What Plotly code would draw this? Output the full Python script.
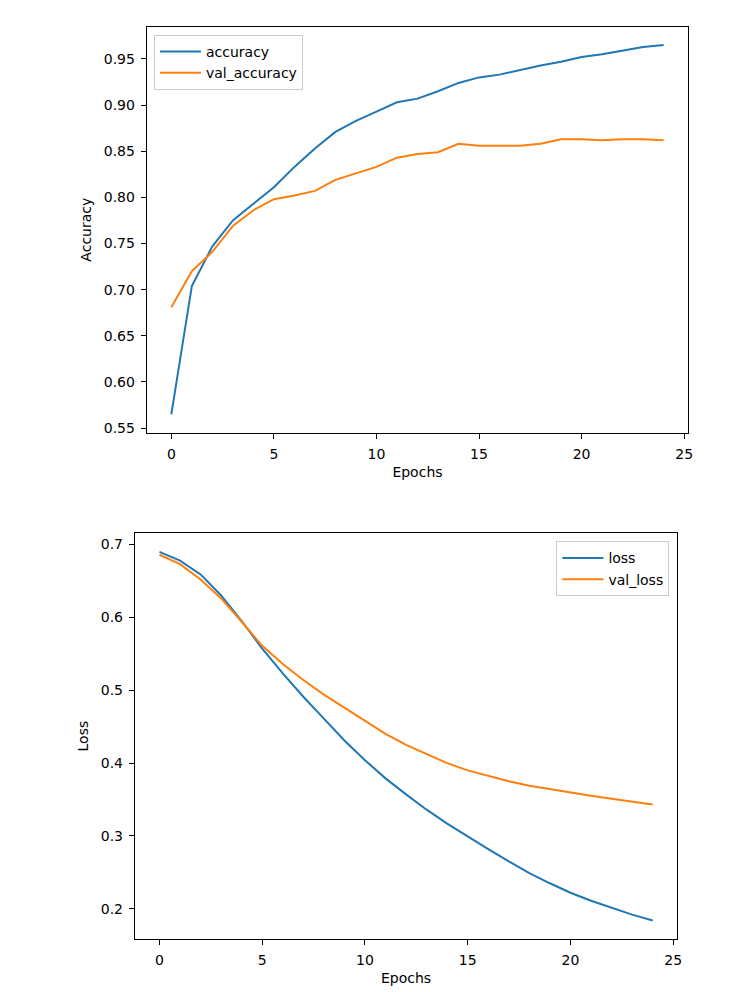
import plotly.graph_objects as go

epochs = list(range(25))

accuracy = [0.565, 0.704, 0.747, 0.775, 0.793, 0.811, 0.833, 0.853, 0.871, 0.883,
            0.893, 0.903, 0.907, 0.915, 0.924, 0.930, 0.933, 0.938, 0.943, 0.947,
            0.952, 0.955, 0.959, 0.963, 0.965]
val_accuracy = [0.681, 0.720, 0.741, 0.769, 0.786, 0.798, 0.802, 0.807, 0.819, 0.826,
                0.833, 0.843, 0.847, 0.849, 0.858, 0.856, 0.856, 0.856, 0.858, 0.863,
                0.863, 0.862, 0.863, 0.863, 0.862]

loss = [0.690, 0.678, 0.659, 0.630, 0.595, 0.557, 0.523, 0.491, 0.461, 0.431,
        0.404, 0.379, 0.357, 0.336, 0.317, 0.299, 0.282, 0.265, 0.249, 0.235,
        0.222, 0.211, 0.201, 0.192, 0.184]
val_loss = [0.686, 0.673, 0.652, 0.626, 0.594, 0.561, 0.536, 0.514, 0.494, 0.476,
            0.458, 0.440, 0.425, 0.412, 0.400, 0.390, 0.382, 0.375, 0.369, 0.364,
            0.359, 0.355, 0.351, 0.347, 0.343]

acc_ticks = [0.55, 0.60, 0.65, 0.70, 0.75, 0.80, 0.85, 0.90, 0.95]
loss_ticks = [0.2, 0.3, 0.4, 0.5, 0.6, 0.7]
x_ticks = [0, 5, 10, 15, 20, 25]

BLUE = "#1f77b4"
ORANGE = "#ff7f0e"
FONT = "DejaVu Sans"
OFF = 8  # page body margin offset
W, H = 736 - 2 * OFF, 992 - OFF


def pad_range(vals, frac=0.05):
    lo, hi = min(vals), max(vals)
    m = (hi - lo) * frac
    return [lo - m, hi + m]


def px_x(p):
    return (p - OFF) / W


def px_y(p):
    return 1 - (p - OFF) / H


fig = go.Figure()
fig.add_trace(go.Scatter(x=epochs, y=accuracy, mode="lines", name="accuracy",
                         line=dict(color=BLUE, width=2), xaxis="x", yaxis="y",
                         legend="legend"))
fig.add_trace(go.Scatter(x=epochs, y=val_accuracy, mode="lines", name="val_accuracy",
                         line=dict(color=ORANGE, width=2), xaxis="x", yaxis="y",
                         legend="legend"))
fig.add_trace(go.Scatter(x=epochs, y=loss, mode="lines", name="loss",
                         line=dict(color=BLUE, width=2), xaxis="x2", yaxis="y2",
                         legend="legend2"))
fig.add_trace(go.Scatter(x=epochs, y=val_loss, mode="lines", name="val_loss",
                         line=dict(color=ORANGE, width=2), xaxis="x2", yaxis="y2",
                         legend="legend2"))

axis_common = dict(showgrid=False, zeroline=False, showline=True, linecolor="black",
                   linewidth=1, mirror=True, ticks="outside", ticklen=5, tickwidth=1,
                   tickcolor="black", tickfont=dict(family=FONT, size=14, color="black"),
                   ticklabelstandoff=3)

xr = pad_range(epochs)

fig.update_layout(
    width=W, height=H,
    margin=dict(l=0, r=0, t=0, b=0),
    paper_bgcolor="white", plot_bgcolor="white",
    font=dict(family=FONT, size=14, color="black"),
    xaxis=dict(domain=[px_x(147.7), px_x(693)], anchor="y", range=xr,
               tickvals=x_ticks, title=dict(text="Epochs", standoff=6,
                                            font=dict(family=FONT, size=14)),
               **axis_common),
    yaxis=dict(domain=[px_y(434), px_y(26.7)], anchor="x",
               range=pad_range(accuracy + val_accuracy), tickvals=acc_ticks,
               tickformat=".2f", title=dict(text="Accuracy", standoff=8,
                                            font=dict(family=FONT, size=14)),
               **axis_common),
    xaxis2=dict(domain=[px_x(135.7), px_x(682)], anchor="y2", range=xr,
                tickvals=x_ticks, title=dict(text="Epochs", standoff=6,
                                             font=dict(family=FONT, size=14)),
                **axis_common),
    yaxis2=dict(domain=[px_y(941.7), px_y(535)], anchor="x2",
                range=pad_range(loss + val_loss), tickvals=loss_ticks,
                tickformat=".1f", title=dict(text="Loss", standoff=8,
                                             font=dict(family=FONT, size=14)),
                **axis_common),
    legend=dict(x=px_x(155), xanchor="left", y=px_y(35), yanchor="top",
                bgcolor="rgba(255,255,255,0.8)", bordercolor="#cccccc", borderwidth=1,
                font=dict(family=FONT, size=14, color="black"),
                tracegroupgap=0, itemwidth=41),
    legend2=dict(x=px_x(674), xanchor="right", y=px_y(543), yanchor="top",
                 bgcolor="rgba(255,255,255,0.8)", bordercolor="#cccccc", borderwidth=1,
                 font=dict(family=FONT, size=14, color="black"),
                 tracegroupgap=0, itemwidth=41),
)

fig.write_html("out.html")
